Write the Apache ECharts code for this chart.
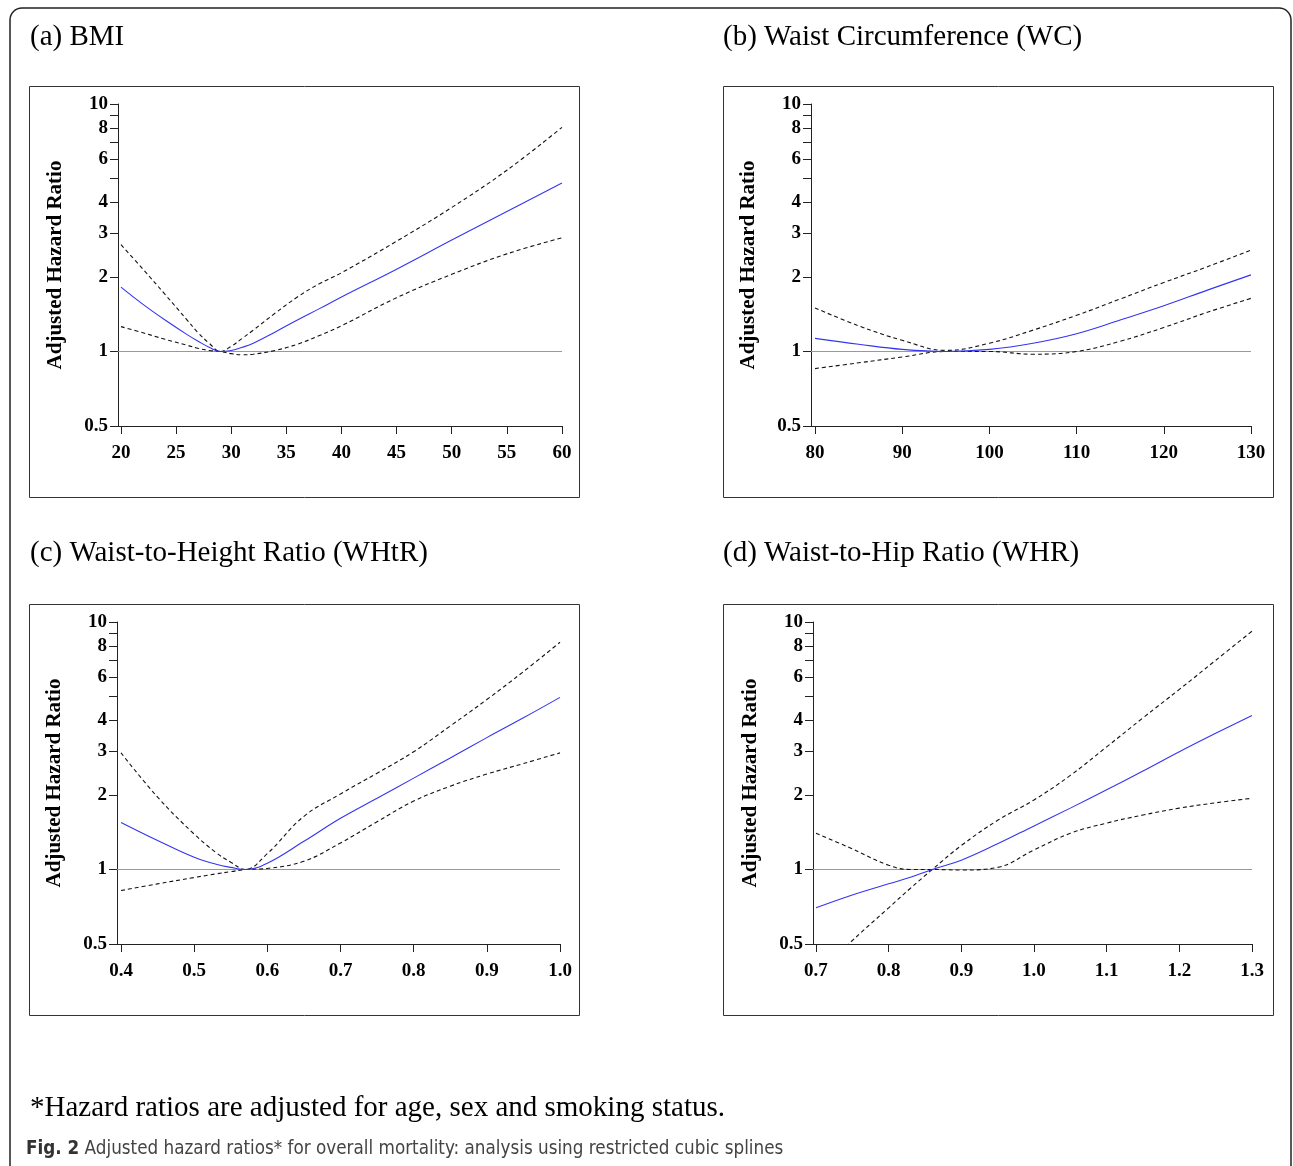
<!DOCTYPE html>
<html><head><meta charset="utf-8">
<script src="https://cdn.jsdelivr.net/npm/echarts@6/dist/echarts.min.js"></script>
<style>html,body{margin:0;padding:0;background:#fff}#c{width:1293px;height:1166px}</style>
</head><body><div id="c"></div>
<script>
// ---- data ----
const bmiX  = [20,22,24,26,27,28,29,30,31,32,34,36,38,40,45,50,55,60];
const bmiHR = [1.82,1.55,1.34,1.17,1.10,1.04,1.00,1.01,1.04,1.08,1.20,1.34,1.49,1.66,2.15,2.82,3.68,4.80];
const bmiHi = [2.70,2.15,1.70,1.34,1.19,1.08,1.00,1.05,1.13,1.22,1.43,1.66,1.88,2.08,2.79,3.82,5.40,8.05];
const bmiLo = [1.26,1.19,1.12,1.06,1.03,1.01,1.00,0.98,0.97,0.975,1.01,1.07,1.16,1.27,1.65,2.05,2.48,2.88];

const wcX  = [80,85,90,95,100,105,110,115,120,125,130];
const wcHR = [1.13,1.07,1.02,1.00,1.02,1.08,1.18,1.34,1.53,1.77,2.04];
const wcHi = [1.50,1.27,1.11,1.01,1.08,1.22,1.40,1.63,1.90,2.20,2.57];
const wcLo = [0.853,0.90,0.95,1.00,1.00,0.975,1.00,1.10,1.25,1.44,1.64];

const whtrX  = [0.40,0.45,0.50,0.53,0.55,0.57,0.60,0.65,0.70,0.75,0.80,0.85,0.90,0.95,1.00];
const whtrHR = [1.55,1.31,1.12,1.05,1.02,1.00,1.06,1.30,1.61,1.94,2.34,2.82,3.41,4.10,4.96];
const whtrHi = [2.96,1.96,1.39,1.17,1.07,1.00,1.16,1.64,2.02,2.45,2.99,3.80,4.86,6.30,8.28];
const whtrLo = [0.822,0.875,0.928,0.96,0.98,1.00,1.01,1.08,1.28,1.56,1.89,2.17,2.43,2.68,2.96];

const whrX  = [0.70,0.745,0.80,0.83,0.86,0.90,0.95,1.00,1.05,1.10,1.15,1.20,1.25,1.30];
const whrHR = [0.70,0.78,0.875,0.93,1.00,1.09,1.27,1.50,1.77,2.10,2.50,2.99,3.55,4.19];
const whrCiSteep = [0.37,0.50,0.70,0.84,1.00,1.25,1.58,1.91,2.40,3.13,4.10,5.34,7.00,9.18];
const whrCiFlat  = [1.40,1.23,1.04,1.00,1.00,0.995,1.02,1.20,1.40,1.54,1.66,1.77,1.86,1.94];

const yTickVals  = [0.5,1,2,3,4,5,6,7,8,9,10];
const yLabelVals = [0.5,1,2,3,4,6,8,10];
const bmiTicks  = [20,25,30,35,40,45,50,55,60];
const wcTicks   = [80,90,100,110,120,130];
const whtrTicks = [0.4,0.5,0.6,0.7,0.8,0.9,1.0];
const whrTicks  = [0.7,0.8,0.9,1.0,1.1,1.2,1.3];

const titles = ['(a) BMI','(b) Waist Circumference (WC)','(c) Waist-to-Height Ratio (WHtR)','(d) Waist-to-Hip Ratio (WHR)'];
const yName = 'Adjusted Hazard Ratio';
const footnote = '*Hazard ratios are adjusted for age, sex and smoking status.';
const captionBold = 'Fig. 2';
const captionText = ' Adjusted hazard ratios* for overall mortality: analysis using restricted cubic splines';

// ---- layout ----
const panels = [
  {x:bmiX, hr:bmiHR, a:bmiHi, b:bmiLo, ticks:bmiTicks, dec:0, grid:{left:118,top:104,width:444,height:322}, xmin:19.73, xmax:60, frame:[29.5,86.5], title:[30,37]},
  {x:wcX, hr:wcHR, a:wcHi, b:wcLo, ticks:wcTicks, dec:0, grid:{left:811,top:104,width:440,height:322}, xmin:79.54, xmax:130, frame:[723.5,86.5], title:[723,37]},
  {x:whtrX, hr:whtrHR, a:whtrHi, b:whtrLo, ticks:whtrTicks, dec:1, grid:{left:117,top:622,width:443,height:322}, xmin:0.3945, xmax:1.0, frame:[29.5,604.5], title:[30,553]},
  {x:whrX, hr:whrHR, a:whrCiSteep, b:whrCiFlat, ticks:whrTicks, dec:1, grid:{left:813,top:622,width:439,height:322}, xmin:0.6959, xmax:1.3, frame:[723.5,604.5], title:[723,553]}
];

const serif = '"Liberation Serif","Times New Roman",serif';
const grids=[], xAxes=[], yAxes=[], series=[], graphics=[];
const zip = (xs, ys) => xs.map((v,i)=>[v, ys[i]]);

panels.forEach((p,i)=>{
  grids.push(Object.assign({containLabel:false}, p.grid));
  xAxes.push({
    type:'value', gridIndex:i, min:p.xmin, max:p.xmax, position:'bottom',
    axisLine:{show:true, onZero:false, lineStyle:{color:'#222', width:1}},
    axisTick:{show:true, customValues:p.ticks, length:8, lineStyle:{color:'#222', width:1}},
    axisLabel:{show:true, customValues:p.ticks, margin:18, color:'#000', fontFamily:serif, fontWeight:'bold', fontSize:19,
      formatter:(v)=> Number(v).toFixed(p.dec)},
    splitLine:{show:false}
  });
  yAxes.push({
    type:'log', logBase:10, gridIndex:i, min:0.5, max:10,
    name:yName, nameLocation:'middle', nameGap:52,
    nameTextStyle:{fontFamily:serif, fontWeight:'bold', fontSize:21, color:'#000'},
    axisLine:{show:true, onZero:false, lineStyle:{color:'#222', width:1}},
    axisTick:{show:true, customValues:yTickVals, length:8, lineStyle:{color:'#222', width:1}},
    axisLabel:{show:true, customValues:yLabelVals, margin:10, color:'#000', fontFamily:serif, fontWeight:'bold', fontSize:19,
      formatter:(v)=> String(+Number(v).toPrecision(3))},
    splitLine:{show:false}, minorTick:{show:false}
  });
  series.push({
    type:'line', xAxisIndex:i, yAxisIndex:i, data:zip(p.x,p.hr), smooth:0.4, showSymbol:false, z:3,
    lineStyle:{color:'#3535f0', width:1.1}, silent:true,
    markLine:{silent:true, symbol:'none', label:{show:false}, z:1,
      lineStyle:{color:'#999', type:'solid', width:1.2}, data:[{yAxis:1}]}
  });
  series.push({
    type:'line', xAxisIndex:i, yAxisIndex:i, data:zip(p.x,p.a), smooth:0.4, showSymbol:false, z:2, silent:true,
    lineStyle:{color:'#111', width:1.1, type:[4,3]}
  });
  series.push({
    type:'line', xAxisIndex:i, yAxisIndex:i, data:zip(p.x,p.b), smooth:0.4, showSymbol:false, z:2, silent:true,
    lineStyle:{color:'#111', width:1.1, type:[4,3]}
  });
  graphics.push({type:'rect', shape:{x:p.frame[0], y:p.frame[1], width:550, height:411},
    style:{fill:'none', stroke:'#333', lineWidth:1}, silent:true});
  graphics.push({type:'text', x:p.title[0], y:p.title[1],
    style:{text:titles[i], font:'29px '+serif, fill:'#000', align:'left', verticalAlign:'middle'}, silent:true});
});

graphics.push({type:'rect', shape:{x:10, y:8, width:1281, height:1220, r:[12,12,0,0]},
  style:{fill:'none', stroke:'#222', lineWidth:1.5}, silent:true});
graphics.push({type:'text', x:30, y:1108,
  style:{text:footnote, font:'29px '+serif, fill:'#000', align:'left', verticalAlign:'middle'}, silent:true});
graphics.push({type:'text', x:26, y:1149, scaleX:0.935, scaleY:1,
  style:{text:'{b|'+captionBold+'}{n|'+captionText+'}', align:'left', verticalAlign:'middle',
    rich:{b:{fontFamily:'"Liberation Sans Narrow","DejaVu Sans Condensed",sans-serif', fontWeight:'bold', fontSize:20, fill:'#333'},
          n:{fontFamily:'"Liberation Sans Narrow","DejaVu Sans Condensed",sans-serif', fontSize:20, fill:'#444'}}}, silent:true});

const chart = echarts.init(document.getElementById('c'), null, {renderer:'canvas'});
chart.setOption({
  animation:false, backgroundColor:'#fff',
  grid:grids, xAxis:xAxes, yAxis:yAxes, series:series, graphic:graphics
});
</script></body></html>
